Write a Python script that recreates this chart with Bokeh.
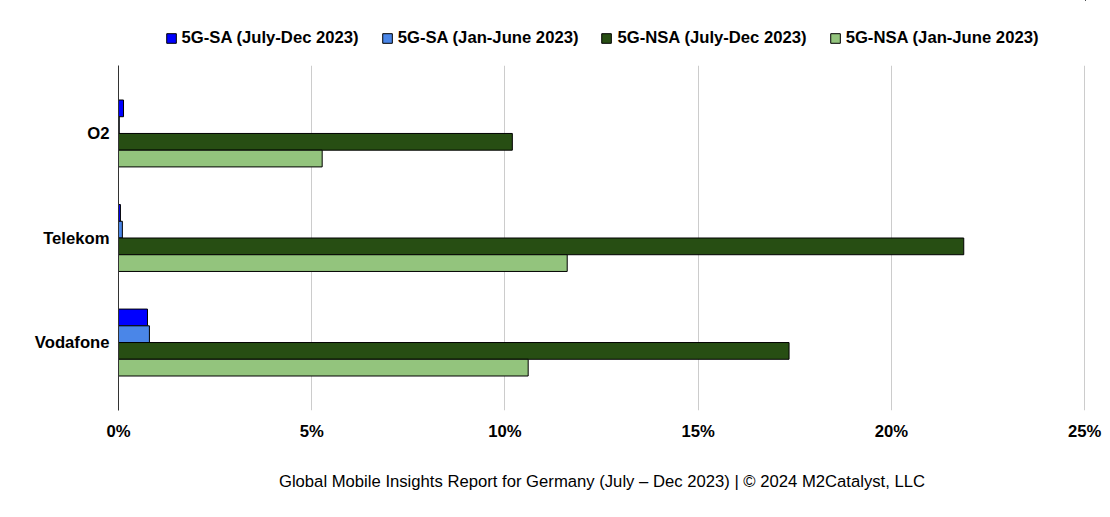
from bokeh.plotting import figure
from bokeh.layouts import column
from bokeh.models import ColumnDataSource, Legend, LegendItem, NumeralTickFormatter, FixedTicker
from bokeh.transform import dodge
from bokeh.embed import file_html
from bokeh.resources import INLINE

operators = ["O2", "Telekom", "Vodafone"]
sa_jul = [0.13, 0.05, 0.75]
sa_jan = [0.02, 0.10, 0.80]
nsa_jul = [10.19, 21.87, 17.35]
nsa_jan = [5.27, 11.61, 10.60]
series = [("5G-SA (July-Dec 2023)", "sa_jul", "#0000ff", -0.24),
          ("5G-SA (Jan-June 2023)", "sa_jan", "#4a86e8", -0.08),
          ("5G-NSA (July-Dec 2023)", "nsa_jul", "#274e13", 0.08),
          ("5G-NSA (Jan-June 2023)", "nsa_jan", "#93c47d", 0.24)]

src = ColumnDataSource(dict(op=operators, sa_jul=[v/100 for v in sa_jul], sa_jan=[v/100 for v in sa_jan],
                            nsa_jul=[v/100 for v in nsa_jul], nsa_jan=[v/100 for v in nsa_jan]))

p = figure(y_range=operators[::-1], x_range=(0, 0.2502), width=1102, height=452,
           output_backend="svg", toolbar_location=None, min_border_left=118, min_border_right=17,
           min_border_top=0, min_border_bottom=107)
p.y_range.range_padding = 0.1

lg = figure(width=1102, height=65, x_range=(0, 1), y_range=(0, 1), output_backend="svg",
            toolbar_location=None, min_border=0)
lg.axis.visible = False
lg.grid.visible = False
lg.outline_line_color = None

items = []
for name, col, color, off in series:
    p.hbar(y=dodge("op", -off, range=p.y_range), right=col, left=0, height=0.16, source=src,
           fill_color=color, line_color="black", line_width=1)
    # legend-only swatch, drawn far outside the legend figure's canvas
    d = lg.hbar(y=[50], left=[50], right=[51], height=[0.1], fill_color=color, line_color="black")
    items.append(LegendItem(label=name, renderers=[d]))
legend = Legend(items=items, orientation="horizontal", location="top_center", border_line_color=None,
                background_fill_alpha=0,
                label_text_font="Liberation Sans", label_text_font_style="bold", label_text_font_size="12.5pt",
                label_text_color="black",
                glyph_width=12, glyph_height=12, spacing=22, padding=4, margin=28)
lg.add_layout(legend)

p.xaxis.axis_label = "Global Mobile Insights Report for Germany (July – Dec 2023) | © 2024 M2Catalyst, LLC"
p.xaxis.axis_label_text_font = "Liberation Sans"
p.xaxis.axis_label_text_font_style = "normal"
p.xaxis.axis_label_text_font_size = "12.5pt"
p.xaxis.axis_label_text_color = "black"
p.xaxis.axis_label_standoff = 28
p.xaxis.ticker = FixedTicker(ticks=[0, 0.05, 0.10, 0.15, 0.20, 0.25])
p.xaxis.formatter = NumeralTickFormatter(format="0%")
for ax in (p.xaxis, p.yaxis):
    ax.major_label_text_font = "Liberation Sans"
    ax.major_label_text_font_style = "bold"
    ax.major_label_text_font_size = "12.5pt"
    ax.major_label_text_color = "black"
    ax.major_tick_line_color = None
    ax.minor_tick_line_color = None
p.xaxis.axis_line_color = None
p.yaxis.axis_line_color = "#333333"
p.yaxis.major_label_standoff = 3
p.xaxis.major_label_standoff = 5
p.ygrid.grid_line_color = None
p.xgrid.grid_line_color = "#cccccc"
p.outline_line_color = None
open("out.html", "w").write(file_html(column(lg, p, spacing=0), INLINE))
